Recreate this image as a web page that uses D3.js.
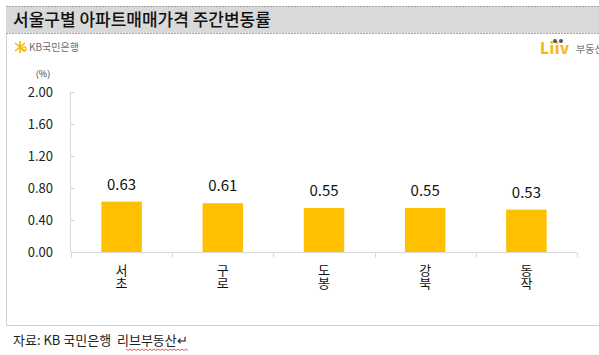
<!DOCTYPE html>
<html>
<head>
<meta charset="utf-8">
<script src="https://cdn.jsdelivr.net/npm/d3@7"></script>
<style>
  body { margin: 0; background: #fff; }
  text { font-family: "Noto Sans CJK KR", "Noto Sans", sans-serif; }
</style>
</head>
<body>
<div id="chart"></div>
<script>
// data
var districts = ["서초", "구로", "도봉", "강북", "동작"];
var changes = [0.63, 0.61, 0.55, 0.55, 0.53];
var yTicks = [0, 0.4, 0.8, 1.2, 1.6, 2.0];

var W = 599, H = 355;
var margin = {top: 92, right: 22, bottom: 103, left: 71};

var svg = d3.select("#chart").append("svg")
    .attr("width", W)
    .attr("height", H);

// title bar
svg.append("rect")
    .attr("x", 6).attr("y", 6)
    .attr("width", W - 6).attr("height", 27)
    .attr("fill", "#d9d9d9");
svg.append("line")
    .attr("x1", 6).attr("x2", W).attr("y1", 6.5).attr("y2", 6.5)
    .attr("stroke", "#a6a6a6").attr("stroke-dasharray", "2,1");
svg.append("line")
    .attr("x1", 6).attr("x2", W).attr("y1", 33.5).attr("y2", 33.5)
    .attr("stroke", "#a6a6a6").attr("stroke-dasharray", "2,1");
svg.append("text")
    .attr("x", 13).attr("y", 26)
    .attr("font-size", 17)
    .attr("font-weight", 500)
    .attr("fill", "#111")
    .text("서울구별 아파트매매가격 주간변동률");

// panel border (left + bottom)
svg.append("path")
    .attr("d", "M6.5,34 V325.5 H" + W)
    .attr("fill", "none")
    .attr("stroke", "#d0d0d0");

// KB logo
var kb = svg.append("g").attr("transform", "translate(15,47)");
kb.append("path")
    .attr("d", "M0,-4 L10,4 M0,4 L10,-4 M5,-6 L5,6")
    .attr("stroke", "#f5b800").attr("stroke-width", 1.6);
kb.append("circle").attr("cx", 9).attr("cy", 2).attr("r", 2.2)
    .attr("fill", "none").attr("stroke", "#f5b800").attr("stroke-width", 1.2);
kb.append("text").attr("x", 14).attr("y", 4)
    .attr("font-size", 10).attr("fill", "#6d6d6d")
    .text("KB국민은행");

// Liiv logo
var liiv = svg.append("g").attr("transform", "translate(540,54)");
liiv.append("text").attr("x", 0).attr("y", 0)
    .attr("font-size", 15).attr("font-weight", 900)
    .attr("font-family", "DejaVu Sans")
    .attr("letter-spacing", 0.5)
    .attr("fill", "#fcb813")
    .text("Liiv");
liiv.append("circle").attr("cx", 15).attr("cy", -13).attr("r", 2).attr("fill", "#555");
liiv.append("circle").attr("cx", 21).attr("cy", -13).attr("r", 2).attr("fill", "#555");
liiv.append("text").attr("x", 36).attr("y", -1)
    .attr("font-size", 10).attr("fill", "#777")
    .text("부동산");

// scales
var x = d3.scaleBand()
    .domain(districts)
    .range([margin.left, W - margin.right])
    .paddingInner(0.6)
    .paddingOuter(0.3);
var y = d3.scaleLinear()
    .domain([0, 2])
    .range([H - margin.bottom, margin.top]);

// y axis
var yAxis = svg.append("g")
    .attr("transform", "translate(" + (margin.left - 1) + ",0)")
    .call(d3.axisRight(y).tickValues(yTicks).tickSize(5).tickFormat(""));
yAxis.select(".domain").attr("stroke", "#d9d9d9");
yAxis.selectAll(".tick line").attr("stroke", "#d9d9d9");

svg.append("g").selectAll("text")
    .data(yTicks)
    .enter().append("text")
      .attr("x", 53)
      .attr("y", function(d) { return y(d) + 5; })
      .attr("text-anchor", "end")
      .attr("font-size", 13)
      .attr("fill", "#222")
      .text(function(d) { return d3.format(".2f")(d); });

svg.append("text")
    .attr("x", 43).attr("y", 77)
    .attr("text-anchor", "middle")
    .attr("font-size", 9).attr("fill", "#333")
    .text("(%)");

// bars
svg.append("g").selectAll("rect")
    .data(changes)
    .enter().append("rect")
      .attr("x", function(d, i) { return x(districts[i]); })
      .attr("y", function(d) { return y(d); })
      .attr("width", x.bandwidth())
      .attr("height", function(d) { return y(0) - y(d); })
      .attr("fill", "#ffc000");

// value labels
svg.append("g").selectAll("text")
    .data(changes)
    .enter().append("text")
      .attr("x", function(d, i) { return x(districts[i]) + x.bandwidth() / 2; })
      .attr("y", function(d) { return y(d) - 12; })
      .attr("text-anchor", "middle")
      .attr("font-size", 15)
      .attr("fill", "#111")
      .text(function(d) { return d3.format(".2f")(d); });

// x axis
var step = x.step();
var xAxis = svg.append("g")
    .attr("transform", "translate(0," + (y(0) + 0.5) + ")");
xAxis.append("line")
    .attr("x1", margin.left - 1).attr("x2", W - margin.right)
    .attr("stroke", "#d9d9d9");
xAxis.selectAll(".tk")
    .data(d3.range(districts.length + 1))
    .enter().append("line")
      .attr("x1", function(i) { return Math.round(x(districts[0]) - x.bandwidth() * 0.75 + i * step) + 0.5; })
      .attr("x2", function(i) { return Math.round(x(districts[0]) - x.bandwidth() * 0.75 + i * step) + 0.5; })
      .attr("y1", 0).attr("y2", 5)
      .attr("stroke", "#d9d9d9");

// category labels, one character per line
var cat = svg.append("g").selectAll("text")
    .data(districts)
    .enter().append("text")
      .attr("x", function(d) { return x(d) + x.bandwidth() / 2; })
      .attr("y", 275)
      .attr("text-anchor", "middle")
      .attr("font-size", 13)
      .attr("fill", "#111");
cat.selectAll("tspan")
    .data(function(d) { return d.split(""); })
    .enter().append("tspan")
      .attr("x", function() { return d3.select(this.parentNode).attr("x"); })
      .attr("dy", function(c, i) { return i === 0 ? 0 : 13; })
      .text(function(c) { return c; });

// source note
svg.append("text")
    .attr("x", 13).attr("y", 345)
    .attr("font-size", 13)
    .attr("fill", "#222")
    .style("white-space", "pre")
    .text("자료: KB 국민은행  리브부동산↵");

// spell-check squiggle under 리브부동산
var sq = d3.range(0, 64, 2).map(function(v, i) { return [126 + v, 349 + (i % 2 ? 1.5 : 0)]; });
svg.append("path")
    .attr("d", d3.line()(sq))
    .attr("fill", "none")
    .attr("stroke", "#e03030")
    .attr("stroke-width", 0.8);
</script>
</body>
</html>
